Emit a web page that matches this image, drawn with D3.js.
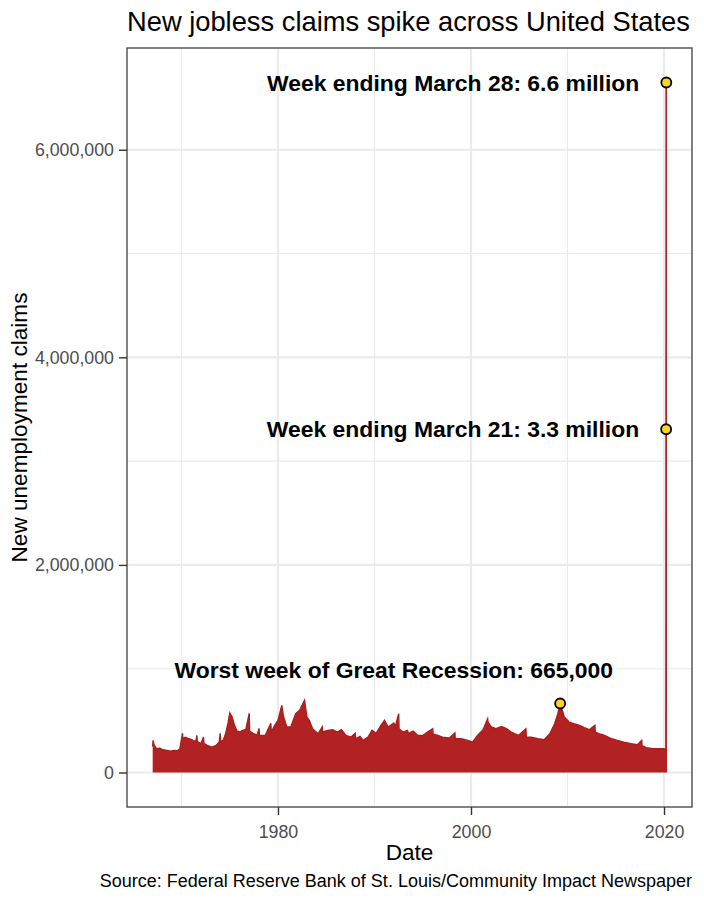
<!DOCTYPE html>
<html>
<head>
<meta charset="utf-8">
<script src="https://cdn.jsdelivr.net/npm/d3@7"></script>
<style>
  body { margin: 0; background: #fff; }
  text { font-family: "Liberation Sans", Arial, Helvetica, sans-serif; }
</style>
</head>
<body>
<svg id="chart" width="704" height="900"></svg>
<script>
const claimDates = [
  "1967-01-07","1967-01-21","1967-03-01","1967-06-01","1967-10-01","1968-02-01","1968-07-01","1968-11-01",
  "1969-04-01","1969-08-01","1969-11-01","1970-02-07","1970-02-21","1970-06-01","1970-09-01","1971-01-01",
  "1971-03-01","1971-07-01","1971-08-07","1971-08-21","1972-01-01","1972-04-15","1972-04-29","1972-09-01",
  "1973-03-01","1973-08-01","1973-12-01","1974-01-05","1974-01-19","1974-05-01","1974-08-01","1974-11-01",
  "1975-01-04","1975-04-01","1975-07-01","1975-10-01","1976-01-15","1976-05-01","1976-09-01","1977-01-08",
  "1977-01-22","1977-06-01","1977-11-01","1978-01-14","1978-01-28","1978-09-01","1979-04-07","1979-04-21",
  "1979-09-01","1980-01-01","1980-05-24","1980-08-01","1980-12-01","1981-05-01","1981-11-01","1982-04-01",
  "1982-10-02","1983-01-01","1983-04-01","1983-08-01","1984-03-01","1984-08-04","1984-08-18","1985-03-01",
  "1985-09-01","1986-03-01","1986-08-01","1987-01-15","1987-08-01","1988-01-02","1988-01-16","1988-07-01",
  "1988-11-01","1989-05-01","1989-10-01","1990-03-01","1990-09-01","1991-01-15","1991-06-01","1992-01-01",
  "1992-03-01","1992-07-04","1992-07-18","1992-11-01","1993-01-01","1993-06-05","1993-07-01","1994-01-01",
  "1994-07-01","1995-01-01","1995-07-01","1996-01-13","1996-01-27","1996-08-01","1997-01-15","1997-10-01",
  "1998-05-02","1998-05-16","1999-01-01","1999-09-01","2000-03-01","2000-09-01","2001-04-01","2001-09-22",
  "2001-10-06","2002-02-01","2002-08-01","2003-03-01","2003-09-01","2004-03-01","2004-12-01","2005-09-10",
  "2005-09-24","2006-04-01","2006-12-01","2007-08-01","2008-03-01","2008-09-01","2009-01-01","2009-03-28",
  "2009-09-01","2010-03-01","2010-09-01","2011-04-01","2011-10-01","2012-04-01","2012-11-03","2012-11-17",
  "2013-04-01","2013-11-01","2014-08-01","2015-03-01","2015-11-01","2016-08-01","2017-04-01","2017-09-09",
  "2017-09-23","2018-03-01","2018-11-01","2019-08-01","2020-01-04","2020-03-07","2020-03-14","2020-03-21",
  "2020-03-28"
];
const claimValues = [
  250000,310000,265000,229000,235000,219000,212000,206000,
  212000,209000,229000,377000,328000,340000,328000,320000,
  309000,300000,357000,300000,277000,341000,280000,261000,
  245000,261000,293000,377000,300000,310000,377000,480000,
  573000,534000,454000,400000,390000,406000,415000,570000,
  400000,377000,360000,425000,357000,357000,473000,390000,
  454000,502000,647000,534000,438000,438000,567000,599000,
  696000,534000,502000,422000,374000,438000,390000,406000,
  412000,390000,412000,357000,341000,377000,325000,348000,
  309000,341000,406000,377000,454000,502000,438000,477000,
  444000,567000,420000,400000,390000,406000,374000,399000,
  357000,357000,390000,422000,370000,357000,341000,332000,
  380000,325000,325000,309000,293000,357000,412000,518000,
  486000,440000,422000,444000,422000,390000,357000,422000,
  340000,341000,325000,316000,374000,470000,567000,665000,
  534000,486000,470000,454000,432000,412000,454000,390000,
  374000,357000,325000,309000,293000,277000,268000,309000,
  260000,239000,229000,229000,229000,215000,282000,3307000,
  6648000
];

// highlighted weeks
const highlightDates = ["2009-03-28", "2020-03-21", "2020-03-28"];
const highlightValues = [665000, 3307000, 6648000];
const highlightLabels = [
  "Worst week of Great Recession: 665,000",
  "Week ending March 21: 3.3 million",
  "Week ending March 28: 6.6 million"
];

const xMajorTicks = [1980, 2000, 2020];
const xMinorTicks = [1970, 1990, 2010];
const yMajorTicks = [0, 2000000, 4000000, 6000000];
const yMinorTicks = [1000000, 3000000, 5000000];

const parse = d3.timeParse("%Y-%m-%d");
const data = claimDates.map((d, i) => ({ date: parse(d), value: claimValues[i] }));
const points = highlightDates.map((d, i) => ({ date: parse(d), value: highlightValues[i], label: highlightLabels[i] }));

const svg = d3.select("#chart");
const panel = { left: 127, right: 692, top: 48, bottom: 807 };

// ggplot style 5% expansion
const dExt = d3.extent(data, d => d.date);
const dPad = (dExt[1] - dExt[0]) * 0.05;
const x = d3.scaleTime()
  .domain([new Date(+dExt[0] - dPad), new Date(+dExt[1] + dPad)])
  .range([panel.left, panel.right]);
const vMax = d3.max(data, d => d.value);
const y = d3.scaleLinear()
  .domain([-vMax * 0.05, vMax * 1.05])
  .range([panel.bottom, panel.top]);

const yearDate = yr => new Date(yr, 0, 1);

// grid
const grid = svg.append("g");
grid.selectAll(".xminor").data(xMinorTicks).join("line")
  .attr("x1", d => x(yearDate(d))).attr("x2", d => x(yearDate(d)))
  .attr("y1", panel.top).attr("y2", panel.bottom)
  .attr("stroke", "#ebebeb").attr("stroke-width", 1.1);
grid.selectAll(".yminor").data(yMinorTicks).join("line")
  .attr("x1", panel.left).attr("x2", panel.right)
  .attr("y1", d => y(d)).attr("y2", d => y(d))
  .attr("stroke", "#ebebeb").attr("stroke-width", 1.1);
grid.selectAll(".xmajor").data(xMajorTicks).join("line")
  .attr("x1", d => x(yearDate(d))).attr("x2", d => x(yearDate(d)))
  .attr("y1", panel.top).attr("y2", panel.bottom)
  .attr("stroke", "#ebebeb").attr("stroke-width", 2.2);
grid.selectAll(".ymajor").data(yMajorTicks).join("line")
  .attr("x1", panel.left).attr("x2", panel.right)
  .attr("y1", d => y(d)).attr("y2", d => y(d))
  .attr("stroke", "#ebebeb").attr("stroke-width", 2.2);

// area + outline
const area = d3.area()
  .x(d => x(d.date))
  .y0(y(0))
  .y1(d => y(d.value));
const line = d3.line()
  .x(d => x(d.date))
  .y(d => y(d.value));

svg.append("path").datum(data)
  .attr("d", area)
  .attr("fill", "#b22222");
svg.append("path").datum(data)
  .attr("d", line)
  .attr("fill", "none")
  .attr("stroke", "#a81f1f")
  .attr("stroke-width", 1.4);
// right edge of the spike down to zero
const last = data[data.length - 1];
svg.append("line")
  .attr("x1", x(last.date)).attr("x2", x(last.date))
  .attr("y1", y(last.value)).attr("y2", y(0))
  .attr("stroke", "#b22222").attr("stroke-width", 1.4);

// highlight points
svg.selectAll(".pt").data(points).join("circle")
  .attr("cx", d => x(d.date))
  .attr("cy", d => y(d.value))
  .attr("r", 5)
  .attr("fill", "#ffd21c")
  .attr("stroke", "#000")
  .attr("stroke-width", 1.8);

// labels
svg.selectAll(".lbl").data(points).join("text")
  .attr("x", (d, i) => i === 0 ? x(yearDate(1992)) : x(d.date) - 27)
  .attr("y", (d, i) => i === 0 ? y(d.value) - 33 : y(d.value))
  .attr("dy", "0.35em")
  .attr("text-anchor", (d, i) => i === 0 ? "middle" : "end")
  .attr("font-size", "22.9px")
  .attr("font-weight", "bold")
  .attr("fill", "#000")
  .text(d => d.label);

// panel border
svg.append("rect")
  .attr("x", panel.left).attr("y", panel.top)
  .attr("width", panel.right - panel.left).attr("height", panel.bottom - panel.top)
  .attr("fill", "none").attr("stroke", "#4d4d4d").attr("stroke-width", 1.4);

// axes
const xAxis = svg.append("g")
  .attr("transform", `translate(0,${panel.bottom})`)
  .call(d3.axisBottom(x).tickValues(xMajorTicks.map(yearDate)).tickFormat(d3.timeFormat("%Y")).tickSize(8).tickPadding(10));
const yAxis = svg.append("g")
  .attr("transform", `translate(${panel.left},0)`)
  .call(d3.axisLeft(y).tickValues(yMajorTicks).tickFormat(d3.format(",")).tickSize(8).tickPadding(5));
[xAxis, yAxis].forEach(g => {
  g.select(".domain").remove();
  g.selectAll(".tick line").attr("stroke", "#333").attr("stroke-width", 1.4);
  g.selectAll(".tick text")
    .attr("fill", "#4d4d4d")
    .attr("font-size", "17.8px")
    .attr("font-family", "'Liberation Sans', Arial, Helvetica, sans-serif");
});

// titles
svg.append("text")
  .attr("x", panel.left).attr("y", 31)
  .attr("font-size", "27.3px").attr("fill", "#000")
  .text("New jobless claims spike across United States");
svg.append("text")
  .attr("x", (panel.left + panel.right) / 2).attr("y", 860)
  .attr("text-anchor", "middle")
  .attr("font-size", "22.6px").attr("fill", "#000")
  .text("Date");
svg.append("text")
  .attr("transform", `translate(27,${(panel.top + panel.bottom) / 2}) rotate(-90)`)
  .attr("text-anchor", "middle")
  .attr("font-size", "22.6px").attr("fill", "#000")
  .text("New unemployment claims");
svg.append("text")
  .attr("x", panel.right).attr("y", 887)
  .attr("text-anchor", "end")
  .attr("font-size", "18px").attr("fill", "#000")
  .text("Source: Federal Reserve Bank of St. Louis/Community Impact Newspaper");
</script>
</body>
</html>
